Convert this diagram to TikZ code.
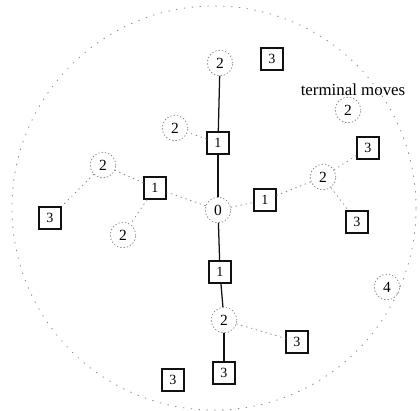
\documentclass[tikz,border=0pt]{standalone}
\usepackage{fontspec}
\setmainfont{Liberation Serif}
\definecolor{ring}{HTML}{8A8A8A}
\definecolor{ink}{HTML}{111111}
\tikzset{
  mover/.style={circle,draw=ring,line width=0.6pt,dash pattern=on 0.6pt off 1.8pt,
    minimum size=0.64cm,inner sep=0pt,font=\fontsize{11}{12}\selectfont},
  boxnode/.style={rectangle,draw=ink,line width=1pt,minimum size=0.55cm,
    inner sep=0pt,font=\fontsize{10}{12}\selectfont},
  faint/.style={ring,line width=0.6pt,dash pattern=on 0.6pt off 3pt},
  mainline/.style={ink,line width=0.9pt}
}

\begin{document}
\begin{tikzpicture}[x=0.025cm,y=-0.025cm,line cap=round]
  % canvas 420 x 410
  \useasboundingbox (0,0) rectangle (420,410);
  % outer ring
  \draw[ring,line width=0.6pt,dash pattern=on 0.6pt off 5pt] (214,208) circle [radius=5.05cm];

  % ---- root and first level ----
  \node[mover] (root) at (218,210) {0};
  \node[boxnode] (b1t) at (218,143) {1};
  \node[boxnode] (b1l) at (155,188) {1};
  \node[boxnode] (b1r) at (265,200) {1};
  \node[boxnode] (b1b) at (220,272) {1};

  % ---- second level ----
  \node[mover] (c2t)  at (220,63)  {2};
  \node[mover] (c2ul) at (175,128) {2};
  \node[mover] (c2l)  at (103,165) {2};
  \node[mover] (c2ll) at (123,235) {2};
  \node[mover] (c2r)  at (323,177) {2};
  \node[mover] (c2b)  at (224,320) {2};
  \node[mover] (c2tm) at (348,110) {2};

  % ---- third and fourth level ----
  \foreach \nm/\x/\y in {a/272/59,b/50/218,c/368/148,d/357/222,e/297/342,f/173/380,g/224/373}{
    \node[boxnode] (b3\nm) at (\x,\y) {3};
  }
  \node[mover] (c4) at (387,287) {4};

  \node[font=\fontsize{12}{14}\selectfont,inner sep=0pt] (tmlabel) at (353,90) {terminal moves};

  % ---- main line ----
  \draw[mainline] (c2t) -- (b1t);
  \draw[mainline] (b1t) -- (root);
  \draw[mainline] (root) -- (b1b);
  \draw[mainline] (b1b) -- (c2b);
  \draw[mainline] (c2b) -- (b3g);

  % ---- other moves ----
  \draw[faint] (root) -- (b1l);
  \draw[faint] (root) -- (b1r);
  \draw[faint] (b1t) -- (c2ul);
  \draw[faint] (b1l) -- (c2l);
  \draw[faint] (b1l) -- (c2ll);
  \draw[faint] (b1r) -- (c2r);
  \draw[faint] (c2l) -- (b3b);
  \draw[faint] (c2r) -- (b3c);
  \draw[faint] (c2r) -- (b3d);
  \draw[faint] (c2b) -- (b3e);
\end{tikzpicture}
\end{document}
